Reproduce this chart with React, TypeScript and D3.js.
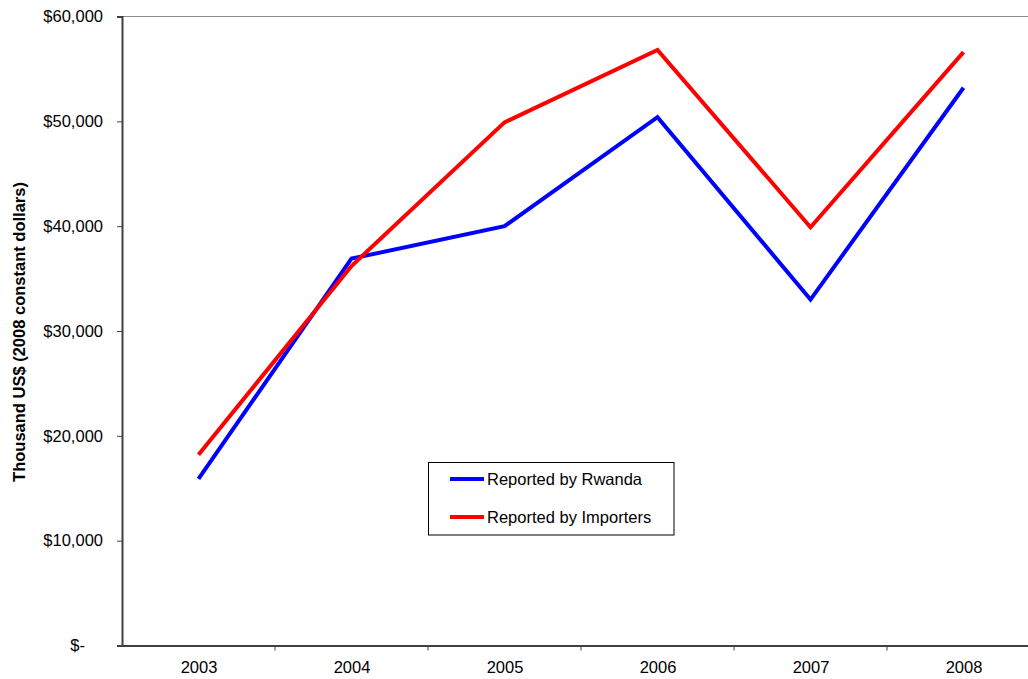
import React, { useEffect, useRef } from "react";
import * as d3 from "d3";

const years = ["2003", "2004", "2005", "2006", "2007", "2008"];
const reportedByRwanda = [15900, 36900, 40000, 50400, 33000, 53200];
const reportedByImporters = [18200, 36200, 49900, 56800, 39900, 56600];
const yTicks = [0, 10000, 20000, 30000, 40000, 50000, 60000];

const seriesNames = ["Reported by Rwanda", "Reported by Importers"];
const seriesColors = ["#0000ff", "#ff0000"];

const W = 1028;
const H = 679;
const left = 122;
const top = 16.5;
const bottom = 645.5;
const right = 1040;
const FONT = "'Liberation Sans', Arial, sans-serif";
const FS = 16.5;

export default function App() {
  const ref = useRef<SVGSVGElement | null>(null);

  useEffect(() => {
    const svg = d3.select(ref.current);
    svg.selectAll("*").remove();

    const x = d3.scalePoint<string>().domain(years).range([left, right]).padding(0.5);
    const y = d3.scaleLinear().domain([0, 60000]).range([bottom, top]);

    // plot area top border
    svg
      .append("line")
      .attr("x1", left)
      .attr("x2", right)
      .attr("y1", top)
      .attr("y2", top)
      .attr("stroke", "#8c8c8c")
      .attr("stroke-width", 1);

    // y axis
    const yAxis = d3
      .axisLeft(y)
      .tickValues(yTicks)
      .tickSize(5)
      .tickPadding(14)
      .tickFormat((d) => (+d === 0 ? "$-" : "$" + d3.format(",")(+d)));
    const gy = svg.append("g").attr("transform", `translate(${left},0)`).call(yAxis);
    gy.select(".domain").attr("stroke", "#404040").attr("stroke-width", 2);
    gy.selectAll(".tick line").attr("stroke", "#404040").attr("stroke-width", 1);
    gy.selectAll(".tick text")
      .attr("font-family", FONT)
      .attr("font-size", FS)
      .attr("fill", "#000");
    gy.selectAll<SVGTextElement, number>(".tick text")
      .filter((d) => +d === 0)
      .attr("dx", -18);

    // x axis with ticks between categories
    const step = x.step();
    const xAxis = d3
      .axisBottom(x)
      .tickSize(0)
      .tickPadding(16)
      .tickSizeOuter(0);
    const gx = svg.append("g").attr("transform", `translate(0,${bottom})`).call(xAxis);
    gx.select(".domain").attr("stroke", "#404040").attr("stroke-width", 2);
    gx.selectAll(".tick text")
      .attr("font-family", FONT)
      .attr("font-size", FS)
      .attr("fill", "#000");
    gx.selectAll(".sep")
      .data(years.slice(1))
      .enter()
      .append("line")
      .attr("x1", (d) => (x(d) as number) - step / 2)
      .attr("x2", (d) => (x(d) as number) - step / 2)
      .attr("y1", 0)
      .attr("y2", 5)
      .attr("stroke", "#404040")
      .attr("stroke-width", 1);

    // series lines
    const line = d3
      .line<number>()
      .x((_, i) => x(years[i]) as number)
      .y((d) => y(d));
    [reportedByRwanda, reportedByImporters].forEach((vals, i) => {
      svg
        .append("path")
        .datum(vals)
        .attr("d", line)
        .attr("fill", "none")
        .attr("stroke", seriesColors[i])
        .attr("stroke-width", 4)
        .attr("stroke-linejoin", "miter");
    });

    // y axis title
    svg
      .append("text")
      .attr("transform", `translate(25,${(top + bottom) / 2 + 1}) rotate(-90)`)
      .attr("text-anchor", "middle")
      .attr("font-family", FONT)
      .attr("font-weight", "bold")
      .attr("font-size", FS)
      .text("Thousand US$ (2008 constant dollars)");

    // legend
    const lg = svg.append("g");
    lg.append("rect")
      .attr("x", 428.5)
      .attr("y", 462.5)
      .attr("width", 245.5)
      .attr("height", 72.5)
      .attr("fill", "#fff")
      .attr("stroke", "#000")
      .attr("stroke-width", 1);
    seriesNames.forEach((name, i) => {
      const cy = 479 + i * 38;
      lg.append("line")
        .attr("x1", 450)
        .attr("x2", 484)
        .attr("y1", cy)
        .attr("y2", cy)
        .attr("stroke", seriesColors[i])
        .attr("stroke-width", 4);
      lg.append("text")
        .attr("x", 487)
        .attr("y", cy + 6)
        .attr("font-family", FONT)
        .attr("font-size", FS)
        .text(name);
    });
  }, []);

  return (
    <svg
      ref={ref}
      width={W}
      height={H}
      style={{ position: "absolute", left: 0, top: 0, background: "#fff" }}
    />
  );
}
